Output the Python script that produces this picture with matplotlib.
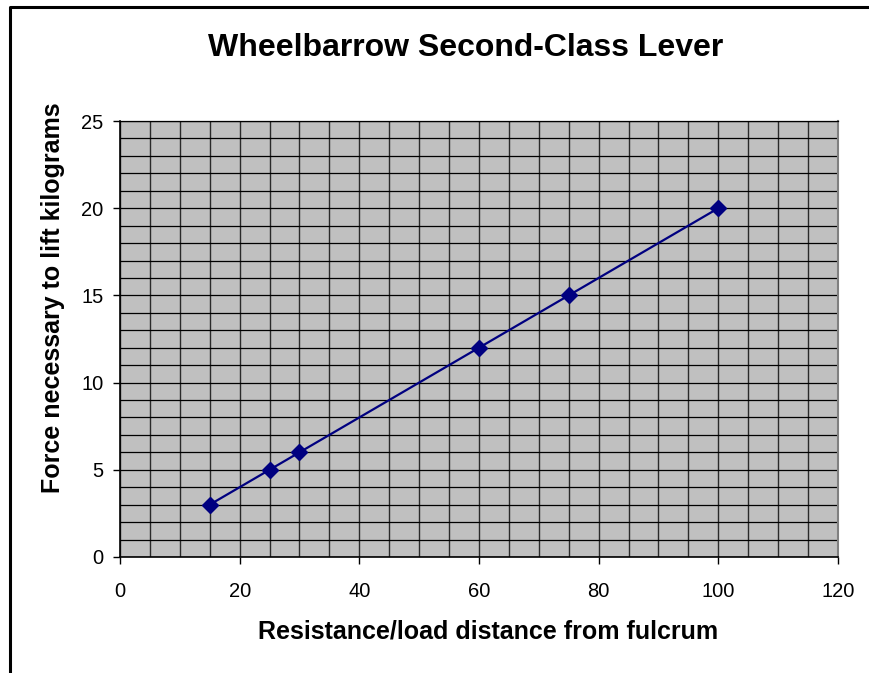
import numpy as np
import matplotlib
matplotlib.use("Agg")
import matplotlib.pyplot as plt
from matplotlib.lines import Line2D

plt.rcParams["font.family"] = ["Liberation Sans", "DejaVu Sans"]

# data
distance = [15, 25, 30, 60, 75, 100]
force = [3, 5, 6, 12, 15, 20]

NAVY = "#000080"
PLOT_BG = "#c0c0c0"

fig = plt.figure(figsize=(8.7, 6.73), dpi=100)
ax = fig.add_axes([0.1379, 0.1724, 0.8253, 0.6478])
ax.set_facecolor(PLOT_BG)

ax.set_xlim(0, 120)
ax.set_ylim(0, 25)
ax.set_xticks(np.arange(0, 121, 20))
ax.set_yticks(np.arange(0, 26, 5))
ax.set_xticks(np.arange(0, 121, 5), minor=True)
ax.set_yticks(np.arange(0, 26, 1), minor=True)
ax.grid(True, which="both", axis="y", color="black", lw=0.9)
ax.grid(True, which="both", axis="x", color="#2a2a2a", lw=1.0)
ax.set_axisbelow(True)
ax.tick_params(which="minor", length=0)
ax.tick_params(which="major", direction="out", length=5, width=1,
               color="black", labelsize=14.5)
ax.tick_params(axis="x", pad=13)
ax.tick_params(axis="y", pad=7)

ax.plot(distance, force, color=NAVY, lw=1.6, marker="D", markersize=8.5,
        markerfacecolor=NAVY, markeredgecolor=NAVY, zorder=5)

for side in ["left", "bottom"]:
    ax.spines[side].set_color("black")
    ax.spines[side].set_linewidth(1.2)
ax.spines["right"].set_color("#808080")
ax.spines["right"].set_linewidth(1.5)
ax.spines["top"].set_color("black")
ax.spines["top"].set_linewidth(0.9)

ax.set_xlabel("Resistance/load distance from fulcrum", fontsize=18,
              fontweight="bold", va="center")
ax.set_ylabel("Force necessary to lift kilograms", fontsize=18,
              fontweight="bold", va="center")
ax.xaxis.set_label_coords(0.512, -0.172)
ax.yaxis.set_label_coords(-0.093, 0.595)

fig.text(0.5356, 0.9287, "Wheelbarrow Second-Class Lever", ha="center",
         va="center", fontsize=23, fontweight="bold")

# chart frame (left and top edges only)
fig.add_artist(Line2D([0.0115, 0.0115, 1.0], [0.0, 0.9896, 0.9896],
                      transform=fig.transFigure, color="black", lw=2.2))

fig.savefig("out.png", dpi=100)
